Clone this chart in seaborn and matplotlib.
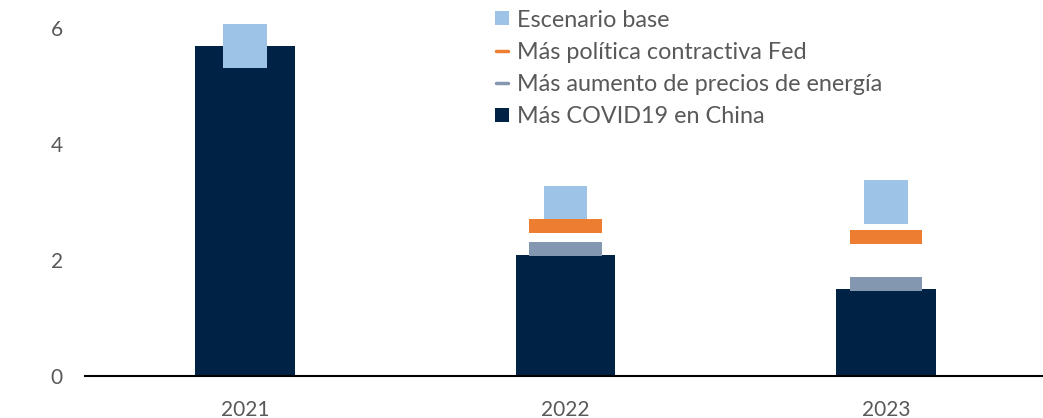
import numpy as np
import pandas as pd
import seaborn as sns
import matplotlib.pyplot as plt
from matplotlib import lines

# Data (% var.)
years = ["2021", "2022", "2023"]
covid_china = [5.69, 2.09, 1.50]
base_low = [5.31, 2.71, 2.62]
base_high = [6.07, 3.28, 3.38]
fed_low = [np.nan, 2.47, 2.28]
fed_high = [np.nan, 2.71, 2.52]
energy_low = [np.nan, 2.07, 1.47]
energy_high = [np.nan, 2.31, 1.71]

labels = [
    "Escenario base",
    "Más política contractiva Fed",
    "Más aumento de precios de energía",
    "Más COVID19 en China",
]

DARK = "#002244"
LIGHT = "#9DC3E6"
ORANGE = "#ED7D31"
GREY = "#8497B0"
TEXT = "#595959"

W, H, DPI = 1043, 418, 100

sns.set_theme(style="white")
plt.rcParams["font.family"] = ["Lato", "DejaVu Sans"]

fig = plt.figure(figsize=(W / DPI, H / DPI), dpi=DPI)
ax = fig.add_axes([85 / W, (H - 376) / H, 961 / W, 376 / H])

df = pd.DataFrame({"year": years, "covid": covid_china})
sns.barplot(data=df, x="year", y="covid", color=DARK, width=0.312,
            saturation=1, ax=ax, linewidth=0)

x = np.arange(len(years))
ranges = [
    (base_low, base_high, LIGHT, 0.137),
    (fed_low, fed_high, ORANGE, 0.225),
    (energy_low, energy_high, GREY, 0.225),
]
for lo, hi, col, wd in ranges:
    lo = np.array(lo)
    hi = np.array(hi)
    ax.bar(x, hi - lo, bottom=lo, width=wd, color=col, linewidth=0, zorder=3)

ax.set_xlim(-0.5, 2.5)
ax.set_ylim(0, 376 / 58)
ax.set_yticks([0, 2, 4, 6])
ax.set_xlabel("")
ax.set_ylabel("")
for s in ["left", "right", "top"]:
    ax.spines[s].set_visible(False)
ax.spines["bottom"].set_color("black")
ax.spines["bottom"].set_linewidth(1.5)
ax.tick_params(axis="y", labelsize=15, colors=TEXT, pad=16, length=0)
ax.tick_params(axis="x", labelsize=15, colors=TEXT, pad=17, length=0)

# unit label, cut off at the top edge like the source
fig.text(8 / W, 1 + 0.012, "Var. %", fontsize=15, color=TEXT, va="bottom")

handles = [
    lines.Line2D([0], [0], marker="s", linestyle="none", markersize=9.5,
                 markerfacecolor=LIGHT, markeredgewidth=0),
    lines.Line2D([0], [0], color=ORANGE, lw=2.5),
    lines.Line2D([0], [0], color=GREY, lw=2.5),
    lines.Line2D([0], [0], marker="s", linestyle="none", markersize=9.5,
                 markerfacecolor=DARK, markeredgewidth=0),
]
leg = fig.legend(handles=handles, labels=labels, loc="upper left",
                 bbox_to_anchor=(496 / W, 0.977), frameon=False,
                 fontsize=16.8, handlelength=0.5, handletextpad=0.42,
                 labelspacing=0.48, borderaxespad=0, borderpad=0)
for t in leg.get_texts():
    t.set_color(TEXT)

fig.savefig("out.png", dpi=DPI)
